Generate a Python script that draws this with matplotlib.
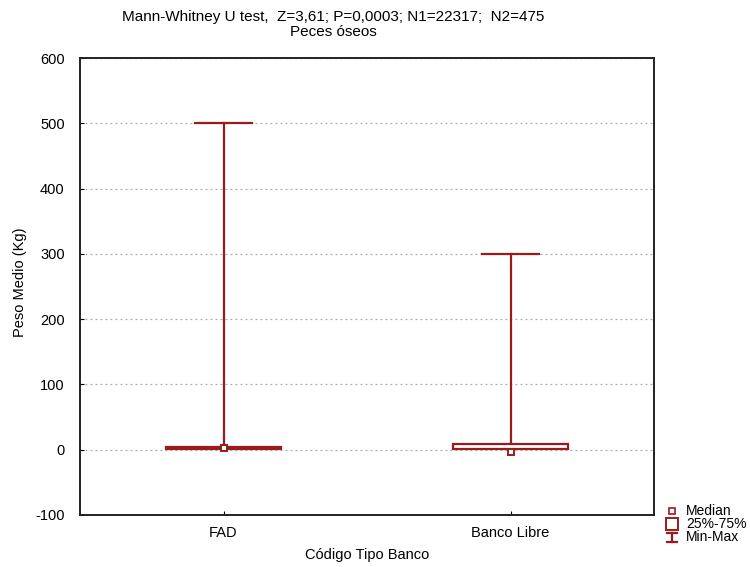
import matplotlib
matplotlib.use("Agg")
import matplotlib.pyplot as plt
from matplotlib.patches import Rectangle
from matplotlib.lines import Line2D

plt.rcParams['font.family'] = ['Liberation Sans', 'DejaVu Sans']
plt.rcParams['axes.unicode_minus'] = False

categories = ["FAD", "Banco Libre"]
medians = [3, -3]
q1 = [1, 1]
q3 = [4, 8]
mins = [1, 1]
maxs = [500, 300]
y_ticks = [-100, 0, 100, 200, 300, 400, 500, 600]

red = "#9a1b1b"
fs = 10.5

fig = plt.figure(figsize=(7.5, 5.67), dpi=100)
ax = fig.add_axes([80 / 750, 52 / 567, 574 / 750, 457 / 567])

box_w = 0.40
cap_w = 0.20
for i, cat in enumerate(categories):
    # whisker (min-max)
    ax.plot([i, i], [mins[i], maxs[i]], color=red, lw=1.6, zorder=3)
    ax.plot([i - cap_w / 2, i + cap_w / 2], [maxs[i], maxs[i]], color=red, lw=1.6, zorder=3)
    # 25%-75% box
    ax.add_patch(Rectangle((i - box_w / 2, q1[i]), box_w, q3[i] - q1[i],
                           facecolor="white", edgecolor=red, lw=1.6, zorder=4))
    # median
    ax.plot(i, medians[i], marker="s", ms=5, mfc="white", mec=red, mew=1.4, zorder=5)

ax.set_xlim(-0.5, 1.5)
ax.set_ylim(-100, 600)
ax.set_xticks(range(len(categories)))
ax.set_xticklabels(categories)
ax.set_yticks(y_ticks)
ax.tick_params(direction="in", length=3, labelsize=fs)
ax.tick_params(axis="y", pad=11)
ax.tick_params(axis="x", pad=8)
ax.yaxis.grid(True, linestyle=(0, (1.5, 2.5)), color="#aaaaaa", lw=0.9)
ax.set_axisbelow(True)
for s in ax.spines.values():
    s.set_linewidth(1.4)
    s.set_color("#222222")

ax.set_ylabel("Peso Medio (Kg)", fontsize=fs)
ax.yaxis.set_label_coords(-53 / 574, 0.51)
ax.set_xlabel("Código Tipo Banco", fontsize=fs, labelpad=6)

fig.text(333 / 750, 1 - 17 / 567, "Mann-Whitney U test,  Z=3,61; P=0,0003; N1=22317;  N2=475",
         ha="center", va="center", fontsize=11)
fig.text(333 / 750, 1 - 32 / 567, "Peces óseos", ha="center", va="center", fontsize=11)

# legend drawn in figure coordinates
lx = 672 / 750
tx = 686 / 750
rows = [511, 524, 537]
fig.add_artist(Line2D([lx], [1 - rows[0] / 567], marker="s", ms=4, mfc="white",
                      mec=red, mew=1.2, transform=fig.transFigure))
fig.add_artist(Line2D([lx], [1 - rows[1] / 567], marker="s", ms=9, mfc="white",
                      mec=red, mew=1.4, transform=fig.transFigure))
yl = 1 - rows[2] / 567
h = 4.5 / 567
fig.add_artist(Line2D([lx, lx], [yl - h, yl + h], color=red, lw=1.6, transform=fig.transFigure))
fig.add_artist(Line2D([lx - 5 / 750, lx + 5 / 750], [yl + h, yl + h], color=red, lw=1.6,
                      transform=fig.transFigure))
fig.add_artist(Line2D([lx - 5 / 750, lx + 5 / 750], [yl - h, yl - h], color=red, lw=1.6,
                      transform=fig.transFigure))
for r, t in zip(rows, ["Median", "25%-75%", "Min-Max"]):
    fig.text(tx, 1 - r / 567, t, ha="left", va="center", fontsize=10)

fig.savefig("out.png", dpi=100)
